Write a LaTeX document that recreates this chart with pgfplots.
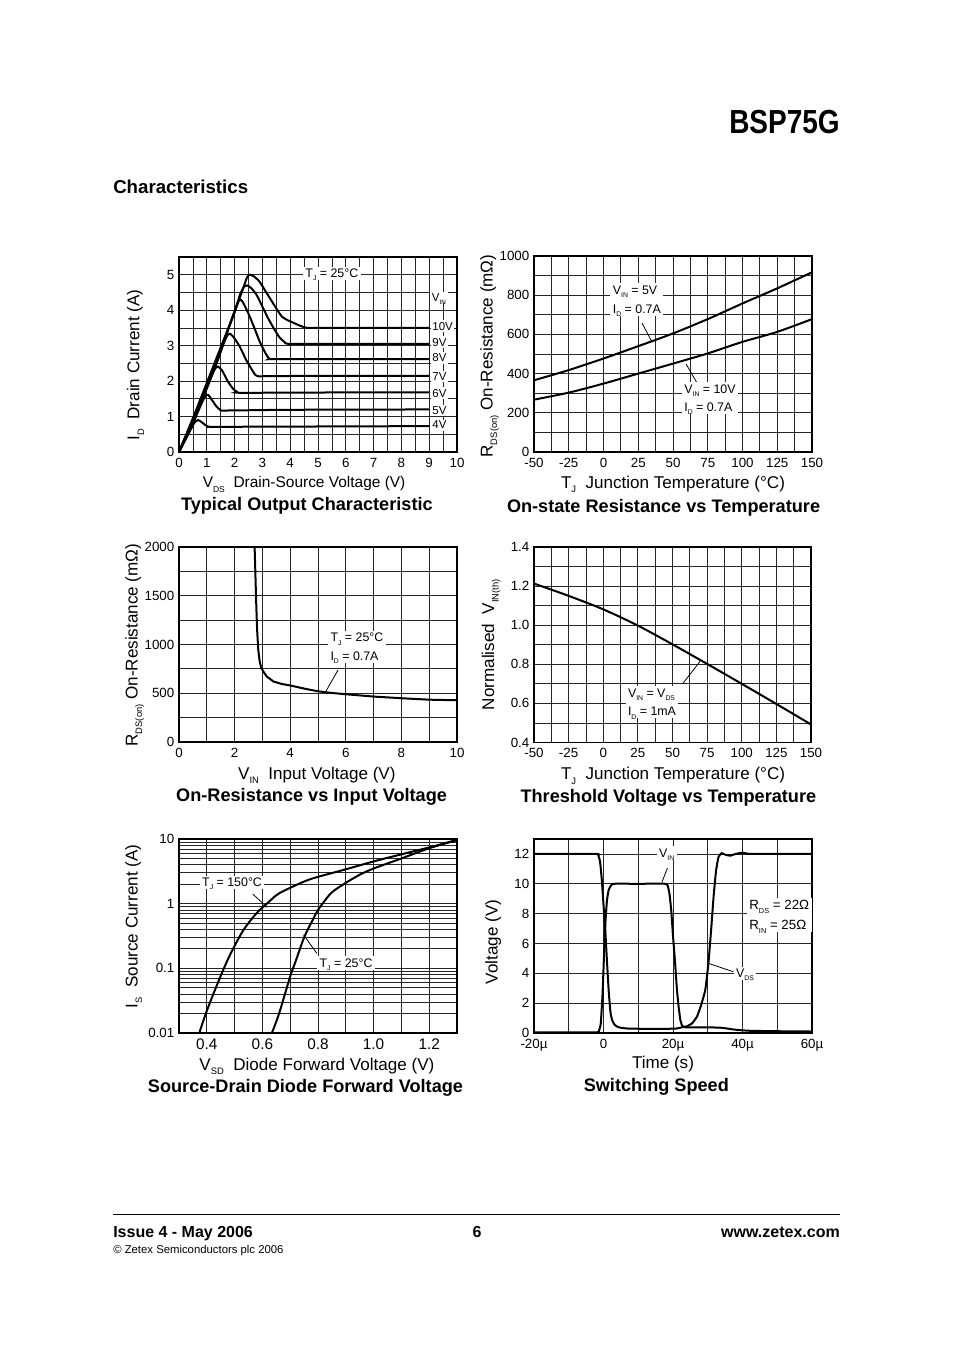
\documentclass[border=0pt]{standalone}
\usepackage{fontspec}
\setmainfont{Liberation Sans}
\usepackage{graphicx}
\usepackage{pgfplots}
\pgfplotsset{compat=1.18}
\newcommand\sub[1]{\raisebox{-0.5ex}[0pt][0pt]{\scalebox{0.55}{#1}}}
\tikzset{ann/.style={font=\fontsize{9.3}{14}\selectfont, fill=white, inner sep=1.8pt, align=left},
         vl/.style={font=\fontsize{8.6}{10}\selectfont, fill=white, inner sep=1.2pt, anchor=west}}
\pgfplotsset{
 ds/.style={
   scale only axis,
   anchor=north west,
   axis line style={line width=1.3pt},
   grid=both,
   major grid style={line width=0.6pt,black!85},
   minor grid style={line width=0.6pt,black!85},
   major tick length=0pt, minor tick length=0pt,
   tick label style={font=\fontsize{10}{11}\selectfont},
   xticklabel style={yshift=-1pt},
   /pgf/number format/assume math mode=true,
   /pgf/number format/1000 sep={},
   label style={font=\fontsize{12.8}{14}\selectfont},
   every axis title/.style={at={(0.5,1)}, anchor=center, font=\bfseries\fontsize{13.6}{15}\selectfont},
   xlabel style={anchor=center},
   ylabel style={anchor=center},
   every axis plot/.append style={line width=1.5pt, black, mark=none},
 }
}
\begin{document}
\begin{tikzpicture}
\fill[white] (0,0) rectangle (715.5pt,-1013.25pt);
\path[use as bounding box] (0,0) rectangle (715.5pt,-1013.25pt);
% page text
\node[anchor=base east, font=\bfseries\fontsize{25}{28}\selectfont, inner sep=0pt] at (630pt,-100.5pt) {\scalebox{0.84}[1]{BSP75G}};
\node[anchor=base west, font=\bfseries\fontsize{14}{16}\selectfont, inner sep=0pt] at (84.75pt,-145.5pt) {Characteristics};
\draw[line width=0.75pt] (84.75pt,-910.5pt) -- (630pt,-910.5pt);
\node[anchor=base west, font=\bfseries\fontsize{12}{14}\selectfont, inner sep=0pt] at (84.75pt,-927.75pt) {Issue 4 - May 2006};
\node[anchor=base, font=\bfseries\fontsize{12}{14}\selectfont, inner sep=0pt] at (357.75pt,-927.75pt) {6};
\node[anchor=base east, font=\bfseries\fontsize{12}{14}\selectfont, inner sep=0pt] at (630pt,-927.75pt) {www.zetex.com};
\node[anchor=base west, font=\fontsize{8.5}{10}\selectfont, inner sep=0pt] at (84.75pt,-939.75pt) {© Zetex Semiconductors plc 2006};

% ---------- Chart 1 ----------
\begin{axis}[ds, at={(134.25pt,-192.75pt)}, width=208.5pt, height=146.25pt,
 xmin=0, xmax=10, ymin=0, ymax=5.5,
 xtick={0,1,2,3,4,5,6,7,8,9,10}, ytick={0,1,2,3,4,5},
 minor x tick num=1, minor y tick num=1,
 xlabel={V\sub{DS}\ \ Drain-Source Voltage (V)},
 ylabel={I\sub{D}\ \ Drain Current (A)},
 title={Typical Output Characteristic},
 xlabel style={at={(axis description cs:0.45,-0.164)}, font=\fontsize{11.6}{14}\selectfont},
 ylabel style={at={(axis description cs:-0.158,0.446)}},
 title style={at={(axis description cs:0.46,-0.277)}},
]
\addplot[smooth, tension=0.4] coordinates {(0,0) (0.5,0.95) (1,1.95) (1.5,2.95) (2,3.95) (2.3,4.6) (2.45,4.93) (2.55,5.0) (2.7,4.95) (2.9,4.8) (3.1,4.55) (3.3,4.3) (3.5,4.05) (3.7,3.82) (3.9,3.72) (4.1,3.65) (4.3,3.58) (4.5,3.52) (4.7,3.5) (6,3.5) (9,3.5)};
\addplot[smooth, tension=0.4] coordinates {(0,0) (0.5,0.93) (1,1.9) (1.5,2.9) (2,3.95) (2.2,4.45) (2.35,4.67) (2.45,4.7) (2.6,4.62) (2.8,4.42) (3.0,4.1) (3.2,3.78) (3.4,3.5) (3.6,3.25) (3.8,3.1) (4.0,3.05) (6,3.05) (9,3.05)};
\addplot[smooth, tension=0.4] coordinates {(0,0) (0.5,0.9) (1,1.85) (1.5,2.85) (1.9,3.75) (2.1,4.2) (2.2,4.3) (2.3,4.22) (2.5,3.9) (2.7,3.52) (2.9,3.12) (3.1,2.8) (3.25,2.63) (3.4,2.62) (6,2.62) (9,2.62)};
\addplot[smooth, tension=0.4] coordinates {(0,0) (0.5,0.88) (1,1.8) (1.4,2.6) (1.6,3.05) (1.75,3.3) (1.85,3.33) (2.0,3.2) (2.2,2.95) (2.4,2.62) (2.6,2.35) (2.75,2.17) (2.9,2.13) (3.2,2.14) (6,2.15) (9,2.15)};
\addplot[smooth, tension=0.4] coordinates {(0,0) (0.5,0.85) (0.9,1.6) (1.15,2.1) (1.3,2.35) (1.4,2.41) (1.55,2.3) (1.75,2.0) (1.95,1.78) (2.1,1.69) (2.3,1.67) (6,1.68) (9,1.68)};
\addplot[smooth, tension=0.4] coordinates {(0,0) (0.5,0.8) (0.8,1.35) (0.95,1.58) (1.05,1.61) (1.2,1.45) (1.35,1.28) (1.5,1.18) (1.7,1.17) (4,1.19) (9,1.2)};
\addplot[smooth, tension=0.4] coordinates {(0,0) (0.3,0.45) (0.55,0.82) (0.68,0.9) (0.8,0.85) (0.95,0.76) (1.1,0.71) (1.5,0.71) (9,0.73)};
\node[ann] at (axis cs:5.5,5.04) {T\sub{J} = 25°C};
\node[vl, anchor=center] at (axis cs:9.35,4.37) {V\sub{IN}};
\node[vl] at (axis cs:9.05,3.55) {10V};
\node[vl] at (axis cs:9.05,3.10) {9V};
\node[vl] at (axis cs:9.05,2.65) {8V};
\node[vl] at (axis cs:9.05,2.14) {7V};
\node[vl] at (axis cs:9.05,1.66) {6V};
\node[vl] at (axis cs:9.05,1.18) {5V};
\node[vl] at (axis cs:9.05,0.76) {4V};
\end{axis}

% ---------- Chart 2 ----------
\begin{axis}[ds, at={(400.5pt,-192pt)}, width=208.5pt, height=147pt,
 xmin=-50, xmax=150, ymin=0, ymax=1000,
 xtick={-50,-25,0,25,50,75,100,125,150}, xticklabels={-50,-25,0,25,50,75,100,125,150},
 ytick={0,200,400,600,800,1000}, yticklabels={0,200,400,600,800,1000},
 minor x tick num=1, minor y tick num=1,
 xlabel={T\sub{J}\ \ Junction Temperature (°C)},
 ylabel={R\sub{DS(on)} On-Resistance (mΩ)},
 title={On-state Resistance vs Temperature},
 xlabel style={at={(axis description cs:0.5,-0.163)}},
 ylabel style={at={(axis description cs:-0.165,0.49)}},
 title style={at={(axis description cs:0.466,-0.286)}},
]
\addplot[smooth] coordinates {(-50,366) (-25,418) (0,477) (25,540) (50,605) (75,678) (100,758) (125,835) (150,917)};
\addplot[smooth] coordinates {(-50,267) (-25,303) (0,349) (25,400) (50,451) (75,503) (100,562) (125,613) (150,678)};
\draw[line width=0.6pt] (axis cs:27.7,658) -- (axis cs:34.9,561);
\draw[line width=0.6pt] (axis cs:59.4,449) -- (axis cs:67.3,352);
\node[ann] at (axis cs:24,778) {V\sub{IN} = 5V\\I\sub{D} = 0.7A};
\node[ann] at (axis cs:76.6,275) {V\sub{IN} = 10V\\I\sub{D} = 0.7A};
\end{axis}

% ---------- Chart 3 ----------
\begin{axis}[ds, at={(134.25pt,-410.25pt)}, width=208.5pt, height=146.25pt,
 xmin=0, xmax=10, ymin=0, ymax=2000,
 xtick={0,2,4,6,8,10}, ytick={0,500,1000,1500,2000}, yticklabels={0,500,1000,1500,2000},
 minor x tick num=1, minor y tick num=1,
 xlabel={V\sub{IN}\ \ Input Voltage (V)},
 ylabel={R\sub{DS(on)} On-Resistance (mΩ)},
 title={On-Resistance vs Input Voltage},
 xlabel style={at={(axis description cs:0.496,-0.169)}},
 ylabel style={at={(axis description cs:-0.165,0.497)}},
 title style={at={(axis description cs:0.477,-0.282)}},
]
\addplot[black] coordinates {(2.72,2000) (2.75,1700) (2.78,1400) (2.81,1150) (2.85,950) (2.9,830) (2.96,760) (3.04,720) (3.16,671) (3.4,620) (3.7,595) (4,580) (4.5,548) (5,520) (5.5,503) (6,490) (7,466) (8,449) (9,434) (10,428)};
\draw[line width=0.6pt] (axis cs:5.72,738) -- (axis cs:5.25,503);
\node[ann] at (axis cs:6.4,975) {T\sub{J} = 25°C\\I\sub{D} = 0.7A};
\end{axis}

% ---------- Chart 4 ----------
\begin{axis}[ds, at={(400.5pt,-410.25pt)}, width=207.75pt, height=146.6pt,
 xmin=-50, xmax=150, ymin=0.4, ymax=1.4,
 xtick={-50,-25,0,25,50,75,100,125,150}, xticklabels={-50,-25,0,25,50,75,100,125,150},
 ytick={0.4,0.6,0.8,1.0,1.2,1.4}, yticklabels={0.4,0.6,0.8,1.0,1.2,1.4},
 minor x tick num=1, minor y tick num=1,
 xlabel={T\sub{J}\ \ Junction Temperature (°C)},
 ylabel={Normalised\ \ V\sub{IN(th)}},
 title={Threshold Voltage vs Temperature},
 xlabel style={at={(axis description cs:0.502,-0.169)}},
 ylabel style={at={(axis description cs:-0.166,0.5)}},
 title style={at={(axis description cs:0.485,-0.282)}},
]
\addplot[smooth] coordinates {(-50,1.213) (-25,1.150) (0,1.081) (25,0.998) (50,0.902) (75,0.802) (100,0.700) (125,0.597) (150,0.492)};
\draw[line width=0.6pt] (axis cs:57.6,0.703) -- (axis cs:69.9,0.815);
\node[ann] at (axis cs:35.2,0.605) {V\sub{IN} = V\sub{DS}\\I\sub{D} = 1mA};
\end{axis}

% ---------- Chart 5 ----------
\begin{axis}[ds, at={(134.25pt,-629.25pt)}, width=208.5pt, height=145.5pt,
 ymode=log, xmin=0.3, xmax=1.3, ymin=0.01, ymax=10,
 xtick={0.4,0.6,0.8,1.0,1.2}, xticklabels={0.4,0.6,0.8,1.0,1.2},
 minor xtick={0.5,0.7,0.9,1.1},
 ytick={0.01,0.1,1,10}, yticklabels={0.01,0.1,1,10},
 minor ytick={0.02,0.03,0.04,0.05,0.06,0.07,0.08,0.09,0.2,0.3,0.4,0.5,0.6,0.7,0.8,0.9,2,3,4,5,6,7,8,9},
 xticklabel style={font=\fontsize{11.5}{12}\selectfont},
 xlabel={V\sub{SD}\ \ Diode Forward Voltage (V)},
 ylabel={I\sub{S}\ \ Source Current (A)},
 title={Source-Drain Diode Forward Voltage},
 xlabel style={at={(axis description cs:0.496,-0.17)}},
 ylabel style={at={(axis description cs:-0.165,0.55)}},
 title style={at={(axis description cs:0.455,-0.284)}},
]
\addplot[smooth] coordinates {(0.373,0.01) (0.40,0.022) (0.44,0.06) (0.48,0.15) (0.53,0.38) (0.58,0.72) (0.616,1.0) (0.65,1.35) (0.68,1.6) (0.75,2.2) (0.8,2.6) (0.9,3.4) (1.0,4.5) (1.1,5.8) (1.2,7.4) (1.3,9.6)};
\addplot[smooth] coordinates {(0.634,0.01) (0.66,0.02) (0.70,0.075) (0.72,0.13) (0.75,0.3) (0.78,0.55) (0.80,0.8) (0.82,1.05) (0.85,1.5) (0.90,2.1) (0.95,2.8) (1.0,3.5) (1.1,5.0) (1.2,7.2) (1.3,9.7)};
\draw[line width=0.6pt] (axis cs:0.566,1.40) -- (axis cs:0.617,0.88);
\draw[line width=0.6pt] (axis cs:0.796,0.17) -- (axis cs:0.748,0.33);
\node[ann] at (axis cs:0.491,2.14) {T\sub{J} = 150°C};
\node[ann] at (axis cs:0.901,0.12) {T\sub{J} = 25°C};
\end{axis}

% ---------- Chart 6 ----------
\begin{axis}[ds, at={(400.5pt,-629.25pt)}, width=208.5pt, height=145.5pt,
 xmin=-20, xmax=60, ymin=0, ymax=13,
 xtick={-20,0,20,40,60}, xticklabels={-20µ,0,20µ,40µ,60µ},
 minor x tick num=1,
 ytick={0,2,4,6,8,10,12},
 xlabel={Time (s)},
 ylabel={Voltage (V)},
 title={Switching Speed},
 xlabel style={at={(axis description cs:0.464,-0.16)}},
 ylabel style={at={(axis description cs:-0.147,0.47)}},
 title style={at={(axis description cs:0.44,-0.28)}},
]
% V_IN
\addplot[smooth, tension=0.25] coordinates {(-20,0.05) (-2,0.05) (-1.4,0.1) (-0.8,0.6) (-0.3,2.5) (0.2,5.5) (0.6,7.6) (1.0,8.9) (1.5,9.6) (2.2,9.9) (3.0,10.0) (10,10.0) (17.8,10.0) (18.5,9.85) (19.0,9.3) (19.5,8.2) (20.0,6.5) (20.6,4.7) (21.1,3.0) (21.6,1.8) (22.1,0.9) (22.6,0.5) (23.5,0.38) (25,0.38) (30,0.38) (34,0.35) (38,0.22) (42,0.15) (50,0.12) (60,0.1)};
% V_DS
\addplot[smooth, tension=0.25] coordinates {(-20,12.0) (-2,12.0) (-1.5,11.9) (-1.0,11.5) (-0.5,10.3) (0,8.6) (0.5,6.9) (1.0,4.8) (1.5,2.8) (2.0,1.4) (2.5,0.85) (3.2,0.55) (4.0,0.42) (5,0.35) (7,0.3) (12,0.28) (18,0.28) (21,0.3) (22.5,0.38) (24,0.45) (25.5,0.65) (26.9,1.1) (28,1.8) (29.3,2.9) (30.2,4.7) (31,7.0) (31.7,9.2) (32.4,10.9) (33.1,11.8) (34,12.05) (35,11.95) (36.5,11.88) (38,12.0) (40,12.08) (42,12.0) (45,12.0) (60,12.0)};
\draw[line width=0.6pt] (axis cs:18.4,11.05) -- (axis cs:16.8,10.1);
\draw[line width=0.6pt] (axis cs:30.2,4.67) -- (axis cs:37.4,4.1);
\node[ann] at (axis cs:18.2,12.07) {V\sub{IN}};
\node[ann, font=\fontsize{10}{15}\selectfont, anchor=west] at (axis cs:41.2,7.9) {R\sub{DS} = 22Ω\\R\sub{IN} = 25Ω};
\node[ann] at (axis cs:40.7,4.0) {V\sub{DS}};
\end{axis}
\end{tikzpicture}
\end{document}
